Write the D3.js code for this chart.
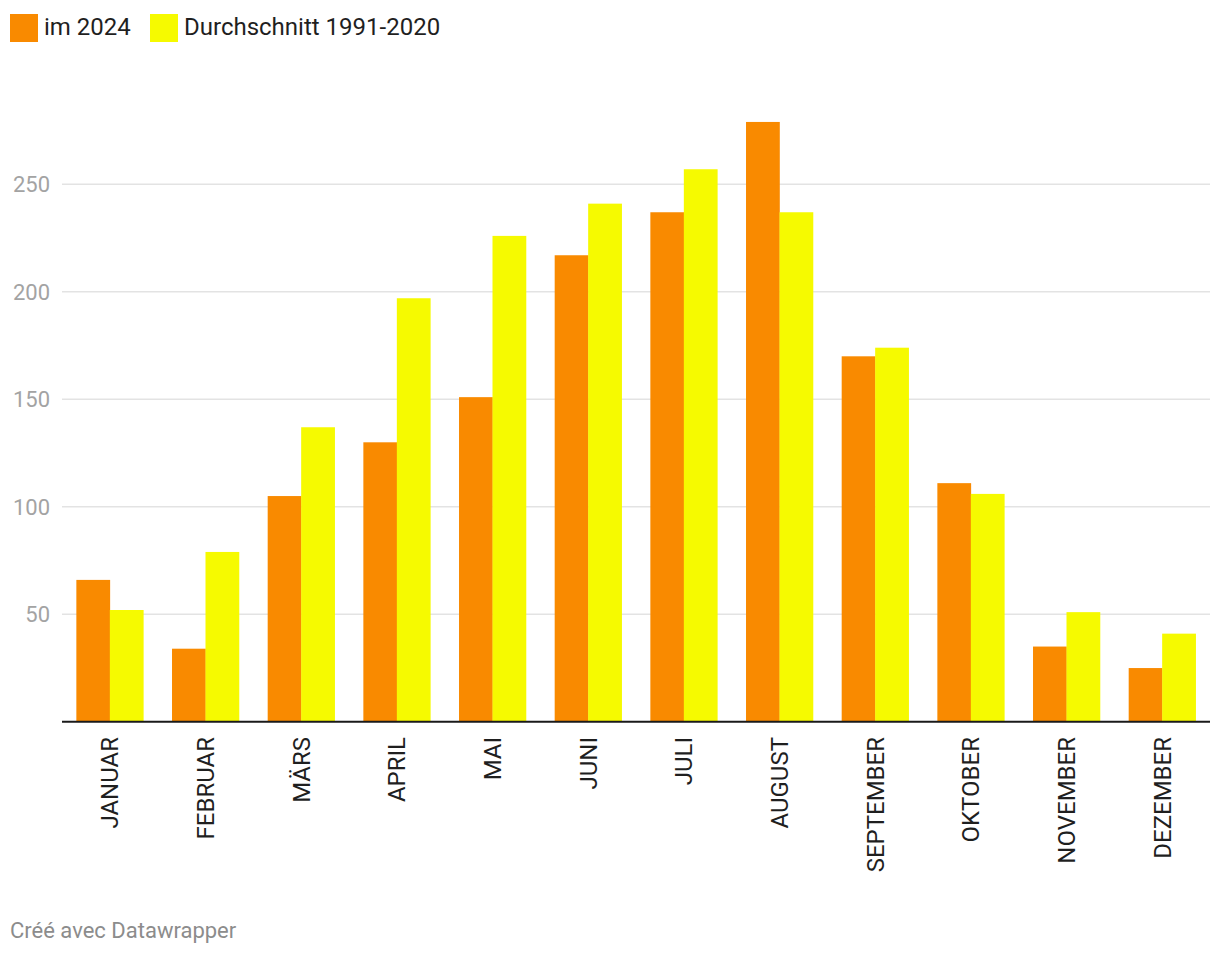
<!DOCTYPE html>
<html><head><meta charset="utf-8">
<script src="https://cdn.jsdelivr.net/npm/d3@7"></script>
<style>body{margin:0;background:#fff;font-family:Roboto,sans-serif;}</style>
</head><body>
<svg id="c" width="1220" height="954"></svg>
<script>
const months = ["JANUAR","FEBRUAR","MÄRS","APRIL","MAI","JUNI","JULI","AUGUST","SEPTEMBER","OKTOBER","NOVEMBER","DEZEMBER"];
const seriesNames = ["im 2024","Durchschnitt 1991-2020"];
const values2024 = [66,34,105,130,151,217,237,279,170,111,35,25];
const valuesAvg = [52,79,137,197,226,241,257,237,174,106,51,41];
const yTicks = [50,100,150,200,250];
const colors = ["#f98a00","#f6fa00"];

(function(){
const svg = d3.select("#c");
const pl = 62, pr = 1210, pb = 721.8;
const x = d3.scaleBand().domain(months).range([pl,pr]).paddingInner(0.3).paddingOuter(0.15);
const x1 = d3.scaleBand().domain([0,1]).range([0,x.bandwidth()]);
const y = d3.scaleLinear().domain([0,250]).range([pb, pb-250*2.15]);

svg.append("g").selectAll("line").data(yTicks).join("line")
  .attr("x1",pl).attr("x2",pr).attr("y1",d=>y(d)).attr("y2",d=>y(d))
  .attr("stroke","#e3e3e3").attr("stroke-width",1.5);
svg.append("g").selectAll("text").data(yTicks).join("text")
  .attr("x",50).attr("y",d=>y(d)).attr("dy","0.35em").attr("text-anchor","end")
  .attr("font-size",22).attr("fill","#a3a3a3").text(d=>d);

const data = months.map((m,i)=>({m, v:[values2024[i], valuesAvg[i]]}));
const g = svg.append("g").selectAll("g").data(data).join("g")
  .attr("transform",d=>`translate(${x(d.m)},0)`);
g.selectAll("rect").data(d=>d.v.map((v,k)=>({v,k}))).join("rect")
  .attr("x",d=>x1(d.k)).attr("width",x1.bandwidth()+0.3)
  .attr("y",d=>y(d.v)).attr("height",d=>y(0)-y(d.v)).attr("fill",d=>colors[d.k]);

svg.append("line").attr("x1",pl).attr("x2",pr).attr("y1",y(0)).attr("y2",y(0))
  .attr("stroke","#1a1a1a").attr("stroke-width",2);

svg.append("g").selectAll("text").data(months).join("text")
  .attr("transform",d=>`translate(${x(d)+x.bandwidth()/2},737) rotate(-90)`)
  .attr("text-anchor","end").attr("dy","0.35em").attr("font-size",24).attr("fill","#1f1f1f").text(d=>d);

const lg = svg.append("g");
const lx = [10,150];
seriesNames.forEach((n,i)=>{
  lg.append("rect").attr("x",lx[i]).attr("y",14).attr("width",28).attr("height",28).attr("fill",colors[i]);
  lg.append("text").attr("x",lx[i]+34).attr("y",27).attr("dy","0.35em").attr("font-size",24).attr("fill","#1f1f1f").text(n);
});

svg.append("text").attr("x",10).attr("y",938).attr("font-size",22).attr("fill","#8c8c8c").text("Créé avec Datawrapper");
})();
</script>
</body></html>
